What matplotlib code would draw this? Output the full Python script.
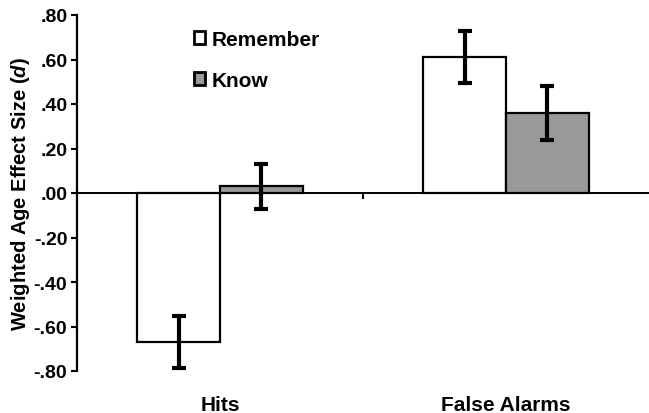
import matplotlib
matplotlib.use("Agg")
import matplotlib.pyplot as plt
import matplotlib.transforms as mtransforms
from matplotlib.patches import Patch
import numpy as np

plt.rcParams['font.family'] = ['Liberation Sans', 'DejaVu Sans']
plt.rcParams['font.weight'] = 'bold'
plt.rcParams['mathtext.fontset'] = 'custom'
plt.rcParams['mathtext.it'] = 'Liberation Sans:italic:bold'
plt.rcParams['mathtext.rm'] = 'Liberation Sans:bold'

categories = ["Hits", "False Alarms"]
series_names = ["Remember", "Know"]
remember_vals = [-0.67, 0.61]
remember_err = [0.115, 0.117]
know_vals = [0.03, 0.36]
know_err = [0.10, 0.12]
yticks = [-0.8, -0.6, -0.4, -0.2, 0.0, 0.2, 0.4, 0.6, 0.8]
ytick_labels = ["-.80", "-.60", "-.40", "-.20", ".00", ".20", ".40", ".60", ".80"]

fig = plt.figure(figsize=(6.49, 4.14), dpi=100)
ax = fig.add_axes([77/649, 42/414, 572/649, 356/414])

x = np.arange(len(categories))
w = 0.29
colors = ["white", "#999999"]
for i, (vals, errs) in enumerate([(remember_vals, remember_err), (know_vals, know_err)]):
    pos = x + (i - 0.5) * w
    ax.bar(pos, vals, width=w, color=colors[i], edgecolor="black", linewidth=1.6, zorder=2)
    ax.errorbar(pos, vals, yerr=errs, fmt="none", ecolor="black", elinewidth=3,
                capsize=5, capthick=3, zorder=3)

ax.set_xlim(-0.5, 1.5)
ax.set_ylim(-0.8, 0.8)
ax.set_yticks(yticks)
ax.set_yticklabels(ytick_labels, fontsize=14, fontweight="bold")
ax.tick_params(axis="y", direction="out", length=4, width=1.5, pad=3)

for s in ["top", "right"]:
    ax.spines[s].set_visible(False)
ax.spines["left"].set_linewidth(1.6)
ax.spines["bottom"].set_position(("data", 0))
ax.spines["bottom"].set_linewidth(1.4)
ax.spines["bottom"].set_zorder(4)
ax.set_xticks([0.5])
ax.set_xticklabels([""])
ax.tick_params(axis="x", direction="out", length=4, width=1.5)

trans = mtransforms.blended_transform_factory(ax.transData, ax.transAxes)
for xi, c in zip(x, categories):
    ax.text(xi, -0.093, c, transform=trans, ha="center", va="center",
            fontsize=15, fontweight="bold")

ax.set_ylabel(r"Weighted Age Effect Size ($\it{d}$)", fontsize=14.5, fontweight="bold", labelpad=1)

handles = [Patch(facecolor=colors[i], edgecolor="black", linewidth=2) for i in range(2)]
leg = fig.legend(handles, series_names, loc="upper left",
                 bbox_to_anchor=(194/649, 1 - 31/414), frameon=False,
                 borderpad=0, borderaxespad=0, handlelength=0.55, handleheight=0.55,
                 handletextpad=0.3, labelspacing=1.05,
                 prop={"size": 15, "weight": "bold"})

fig.savefig("out.png", dpi=100)
